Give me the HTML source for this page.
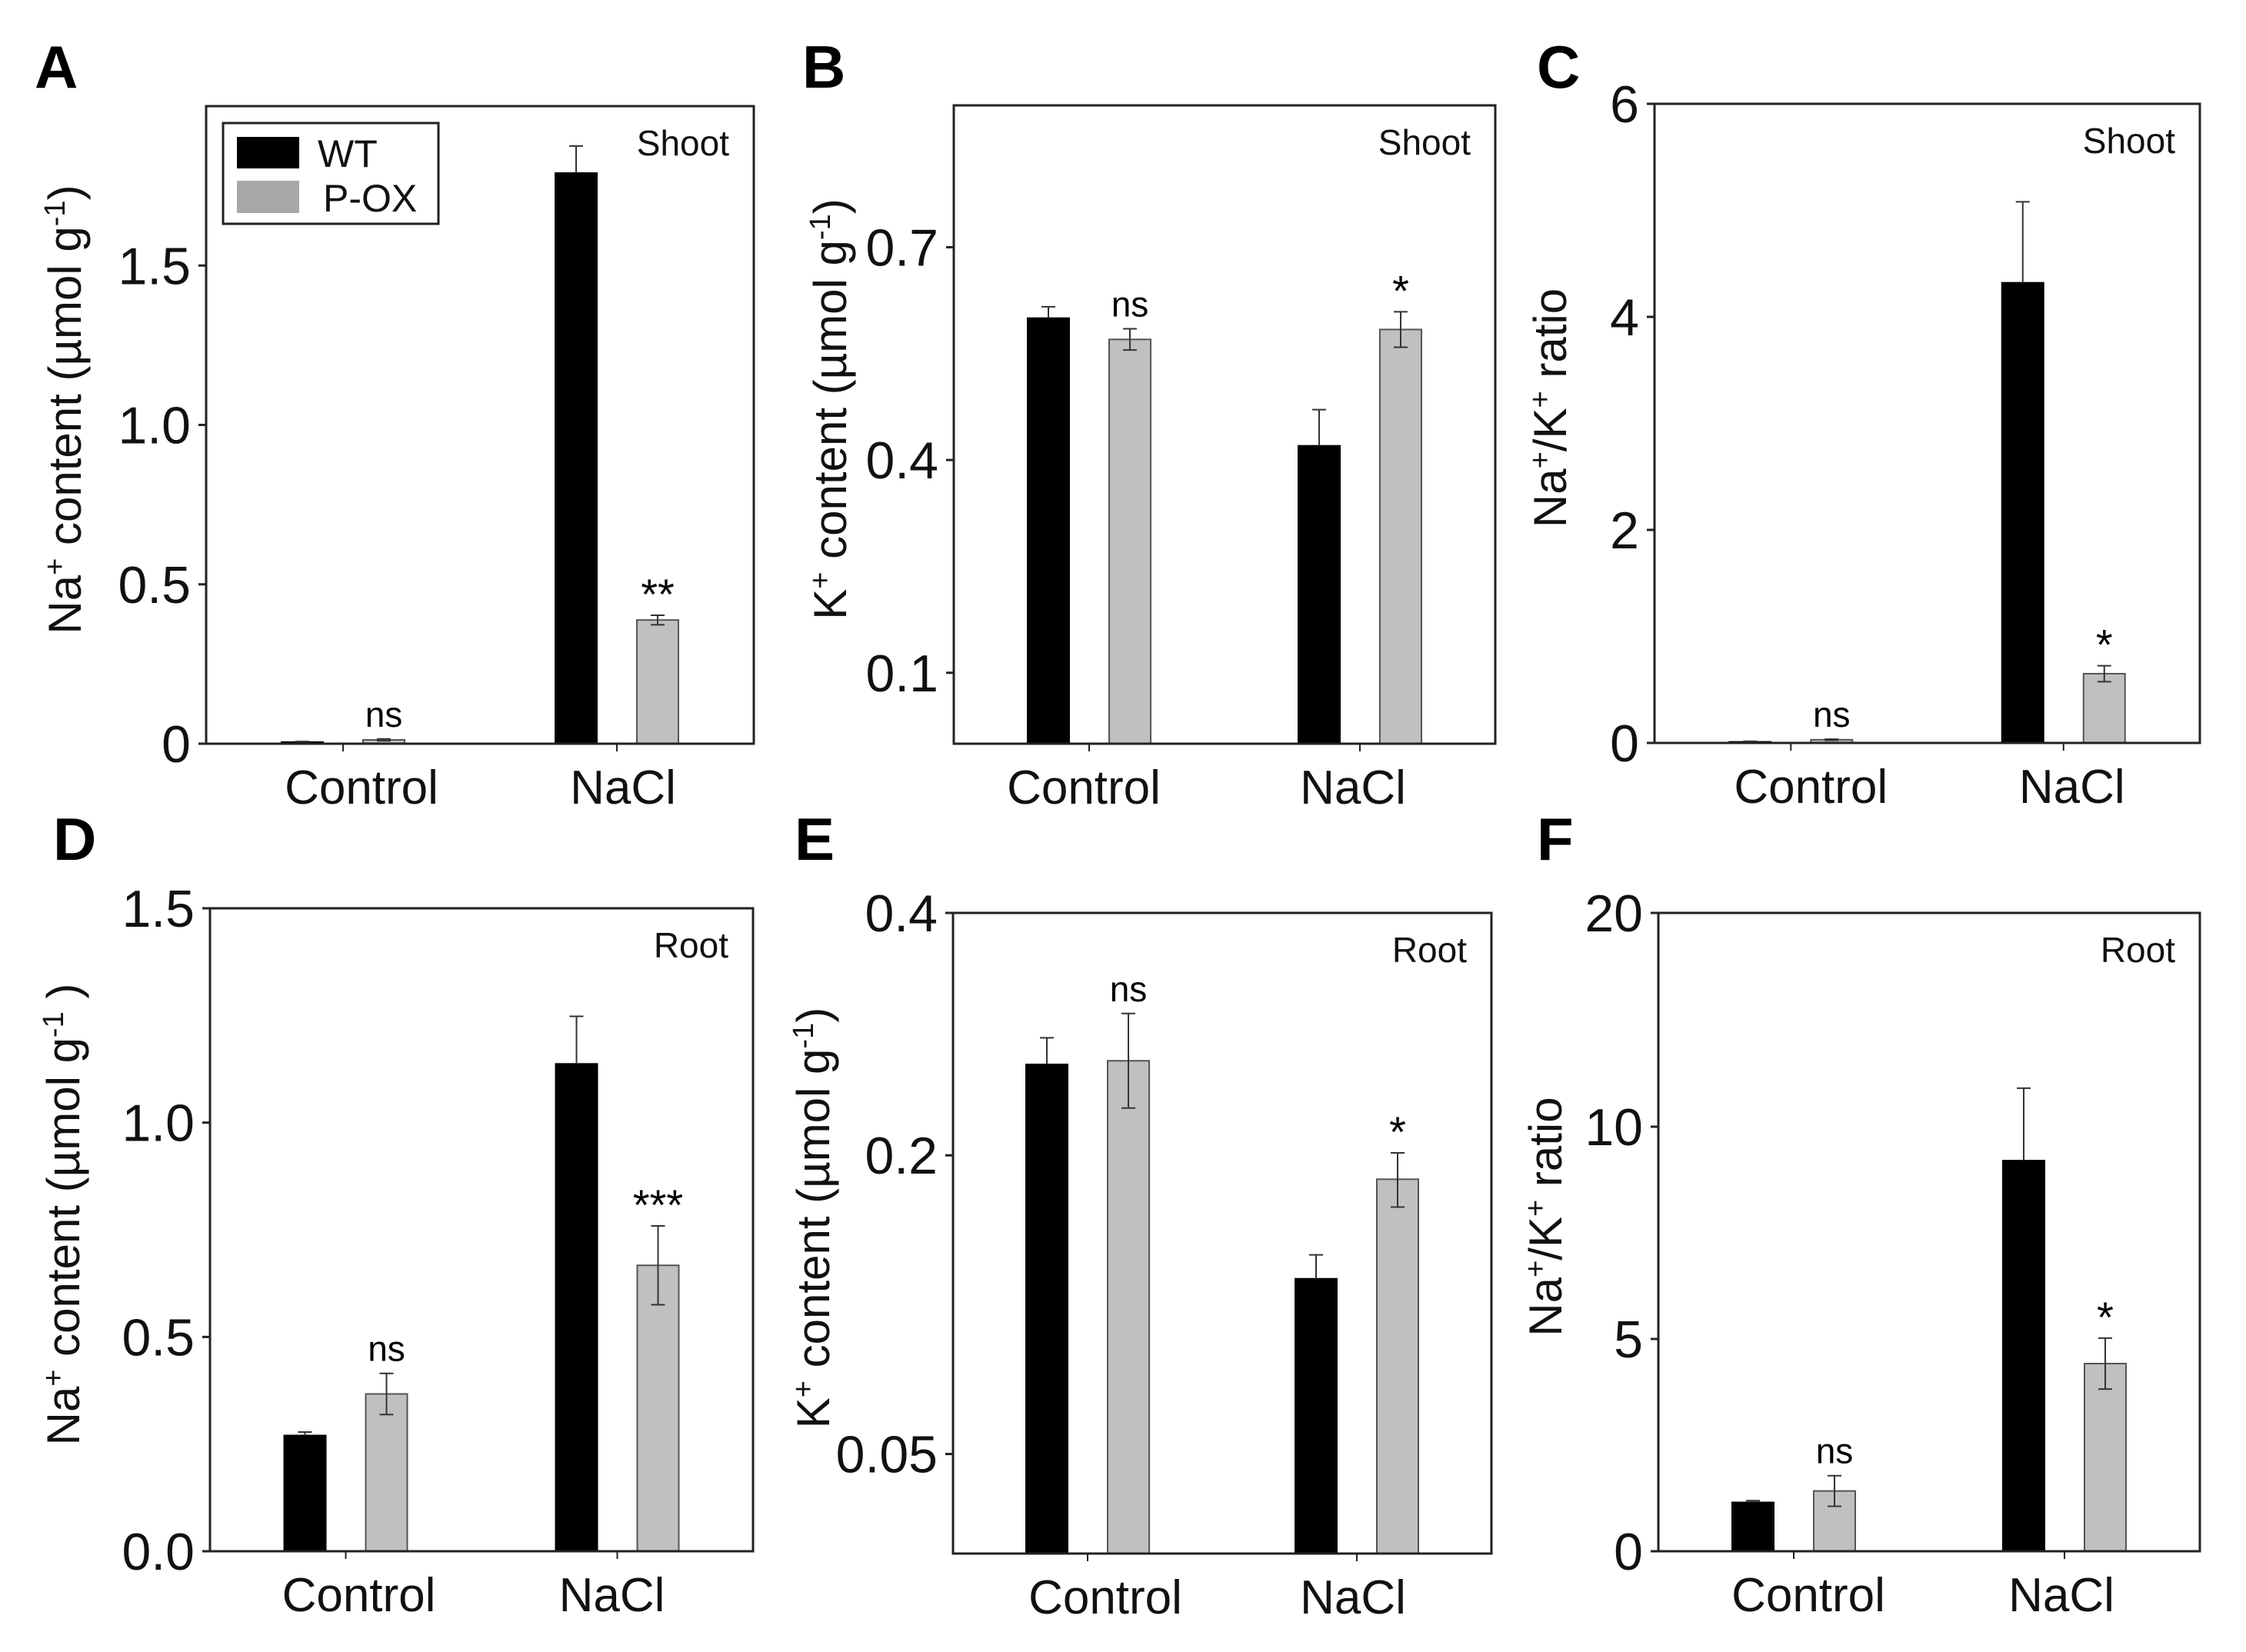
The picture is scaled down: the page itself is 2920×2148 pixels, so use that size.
<!DOCTYPE html>
<html><head><meta charset="utf-8">
<style>
html,body{margin:0;padding:0;background:#fff;}
svg{display:block;font-family:"Liberation Sans",Arial,sans-serif;}
</style></head>
<body>
<svg id="fig" width="2920" height="2148" viewBox="0 0 2920 2148" xmlns="http://www.w3.org/2000/svg"></svg>
<script>
const categories = ["Control", "NaCl"];
// Panel A: Shoot Na+
const naShootWT = [0.005, 1.79];
const naShootWTerr = [0.002, 0.085];
const naShootOX = [0.012, 0.388];
const naShootOXerr = [0.003, 0.015];
// Panel B: Shoot K+
const kShootWT = [0.60, 0.42];
const kShootWTerr = [0.016, 0.051];
const kShootOX = [0.57, 0.584];
const kShootOXerr = [0.015, 0.025];
// Panel C: Shoot ratio
const ratioShootWT = [0.01, 4.32];
const ratioShootWTerr = [0.005, 0.76];
const ratioShootOX = [0.03, 0.65];
const ratioShootOXerr = [0.005, 0.075];
// Panel D: Root Na+
const naRootWT = [0.27, 1.137];
const naRootWTerr = [0.008, 0.111];
const naRootOX = [0.367, 0.667];
const naRootOXerr = [0.048, 0.092];
// Panel E: Root K+
const kRootWT = [0.275, 0.138];
const kRootWTerr = [0.022, 0.012];
const kRootOX = [0.278, 0.188];
const kRootOXerr = [0.039, 0.014];
// Panel F: Root ratio
const ratioRootWT = [1.15, 9.2];
const ratioRootWTerr = [0.04, 2.6];
const ratioRootOX = [1.42, 4.42];
const ratioRootOXerr = [0.36, 0.6];
// tick labels
const ticksA = [0, 0.5, 1.0, 1.5];
const tickLabelsA = ["0", "0.5", "1.0", "1.5"];
const ticksB = [0.1, 0.4, 0.7];
const tickLabelsB = ["0.1", "0.4", "0.7"];
const ticksC = [0, 2, 4, 6];
const tickLabelsC = ["0", "2", "4", "6"];
const ticksD = [0, 0.5, 1.0, 1.5];
const tickLabelsD = ["0.0", "0.5", "1.0", "1.5"];
const ticksE = [0.05, 0.2, 0.4];
const tickLabelsE = ["0.05", "0.2", "0.4"];
const ticksF = [0, 5, 10, 20];
const tickLabelsF = ["0", "5", "10", "20"];
const sigA = ["ns", "**"], sigB = ["ns", "*"], sigC = ["ns", "*"];
const sigD = ["ns", "***"], sigE = ["ns", "*"], sigF = ["ns", "*"];

const NS = "http://www.w3.org/2000/svg";
const svg = document.getElementById("fig");
function mk(tag, attrs, parent, text) {
  const e = document.createElementNS(NS, tag);
  for (const k in attrs) e.setAttribute(k, attrs[k]);
  if (text !== undefined) e.textContent = text;
  (parent || svg).appendChild(e);
  return e;
}
function axisFn(dom, rng) {
  return function (v) {
    for (let i = 0; i < dom.length - 1; i++) {
      if (v <= dom[i + 1] || i === dom.length - 2) {
        const t = (v - dom[i]) / (dom[i + 1] - dom[i]);
        return rng[i] + t * (rng[i + 1] - rng[i]);
      }
    }
  };
}

const panels = [
  {id:"a", letter:"A", lx:45, ly:114, x0:268, x1:980, y0:138, y1:967, dom:[0,2], tissue:"Shoot", cs:[24,8],
   wt:naShootWT, wte:naShootWTerr, ox:naShootOX, oxe:naShootOXerr, ticks:ticksA, tl:tickLabelsA, sig:sigA,
   title:["Na","+"," content (µmol g","-1",")"], tx:105, legend:true},
  {id:"b", letter:"B", lx:1043, ly:114, x0:1240, x1:1944, y0:137, y1:967, dom:[0,0.9], tissue:"Shoot", cs:[-7,-9],
   wt:kShootWT, wte:kShootWTerr, ox:kShootOX, oxe:kShootOXerr, ticks:ticksB, tl:tickLabelsB, sig:sigB,
   title:["K","+"," content (µmol g","-1",")"], tx:1100},
  {id:"c", letter:"C", lx:1998, ly:114, x0:2151, x1:2860, y0:135, y1:966, dom:[0,6], tissue:"Shoot", cs:[26,11],
   wt:ratioShootWT, wte:ratioShootWTerr, ox:ratioShootOX, oxe:ratioShootOXerr, ticks:ticksC, tl:tickLabelsC, sig:sigC,
   title:["Na","+","/K","+"," ratio"], tx:2036},
  {id:"d", letter:"D", lx:69, ly:1118, x0:273, x1:979, y0:1181, y1:2017, dom:[0,1.5], tissue:"Root", cs:[17,-7],
   wt:naRootWT, wte:naRootWTerr, ox:naRootOX, oxe:naRootOXerr, ticks:ticksD, tl:tickLabelsD, sig:sigD,
   title:["Na","+"," content (µmol g","-1"," )"], tx:103},
  {id:"e", letter:"E", lx:1033, ly:1118, x0:1239, x1:1939, y0:1187, y1:2020, dom:[0,0.2,0.4], rngFrac:[0,0.6216,1], tissue:"Root", cs:[23,-5],
   wt:kRootWT, wte:kRootWTerr, ox:kRootOX, oxe:kRootOXerr, ticks:ticksE, tl:tickLabelsE, sig:sigE,
   title:["K","+"," content (µmol g","-1",")"], tx:1078},
  {id:"f", letter:"F", lx:1998, ly:1118, x0:2156, x1:2860, y0:1187, y1:2017, dom:[0,10,20], rngFrac:[0,0.6651,1], tissue:"Root", cs:[19,-4],
   wt:ratioRootWT, wte:ratioRootWTerr, ox:ratioRootOX, oxe:ratioRootOXerr, ticks:ticksF, tl:tickLabelsF, sig:sigF,
   title:["Na","+","/K","+"," ratio"], tx:2030}
];

panels.forEach(p => {
  const g = mk("g", {});
  
  
  const H = p.y1 - p.y0;
  const rng = (p.rngFrac || [0, 1]).map(f => p.y1 - f * H);
  const y = axisFn(p.dom, rng);
  const W = p.x1 - p.x0;
  const xc = i => p.x0 + W * (0.25 + 0.5 * i);
  const bw = 54, off = 53;

  const lt = mk("text", {x:p.lx, y:p.ly, "font-size":78, "font-weight":"bold"}, g, p.letter);
  
  

  [["wt", p.wt, p.wte, "#000", -off], ["ox", p.ox, p.oxe, "#c0c0c0", off]].forEach(s => {
    s[1].forEach((v, i) => {
      const cx = xc(i) + s[4];
      const top = y(v);
      const r = mk("rect", {x:cx - bw/2, y:top, width:bw, height:p.y1 - top, fill:s[3],
        stroke: s[0] === "wt" ? "#000" : "#555", "stroke-width": 2}, g);
      
      
      const e = s[2][i];
      const yt = y(v + e), yb = s[0] === "wt" ? top : y(v - e);
      const eg = mk("path", {d:`M${cx},${yb}V${yt}M${cx-9},${yt}H${cx+9}` + (s[0]==="ox" ? `M${cx-9},${yb}H${cx+9}` : ""),
        stroke:"#333", "stroke-width":2, fill:"none"}, g);
      
      
      if (s[0] === "ox") {
        const isStar = p.sig[i].indexOf("*") >= 0;
        const st = mk("text", {x:cx, y:yt - (isStar ? 8 : 16), "font-size":isStar ? 56 : 46, "text-anchor":"middle"}, g, p.sig[i]);
        
        
      }
    });
  });

  const fr = mk("rect", {x:p.x0, y:p.y0, width:W, height:H, fill:"none", stroke:"#222", "stroke-width":3}, g);
  
  

  p.ticks.forEach((t, i) => {
    const yy = y(t);
    const tk = mk("line", {x1:p.x0 - 10, x2:p.x0, y1:yy, y2:yy, stroke:"#222", "stroke-width":3}, g);
    
    
    const tl = mk("text", {x:p.x0 - 20, y:yy + 24, "font-size":68, "text-anchor":"end", fill:"#111"}, g, p.tl[i]);
    
    
  });
  categories.forEach((c, i) => {
    const tk = mk("line", {x1:xc(i), x2:xc(i), y1:p.y1, y2:p.y1 + 10, stroke:"#222", "stroke-width":2}, g);
    
    
    const cl = mk("text", {x:xc(i) + p.cs[i], y:p.y1 + 78, "font-size":62, "text-anchor":"middle", fill:"#111"}, g, c);
    
    
  });
  const tiss = mk("text", {x:p.x1 - 32, y:p.y0 + 64, "font-size":46, "text-anchor":"end", fill:"#111"}, g, p.tissue);
  
  
  const cy = (p.y0 + p.y1) / 2 - 20;
  const yt = mk("text", {x:p.tx, y:cy, "font-size":60, "text-anchor":"middle", fill:"#111",
    transform:`rotate(-90 ${p.tx} ${cy})`}, g);
  
  
  p.title.forEach(part => {
    const sup = (part === "+" || part === "-1");
    mk("tspan", sup ? {"font-size":38, "baseline-shift":"super"} : {}, yt, part);
  });

  if (p.legend) {
    const lg = mk("g", {}, g);
    
    
    mk("rect", {x:290, y:160, width:280, height:131, fill:"#fff", stroke:"#222", "stroke-width":3}, lg);
    const s1 = mk("rect", {x:308, y:178, width:81, height:41, fill:"#000"}, lg);
    
    
    const s2 = mk("rect", {x:308, y:235, width:81, height:42, fill:"#a8a8a8"}, lg);
    
    
    const t1 = mk("text", {x:413, y:217, "font-size":50, fill:"#111"}, lg, "WT");
    
    
    const t2 = mk("text", {x:420, y:275, "font-size":50, fill:"#111"}, lg, "P-OX");
    
    
  }
});
</script>
</body></html>
